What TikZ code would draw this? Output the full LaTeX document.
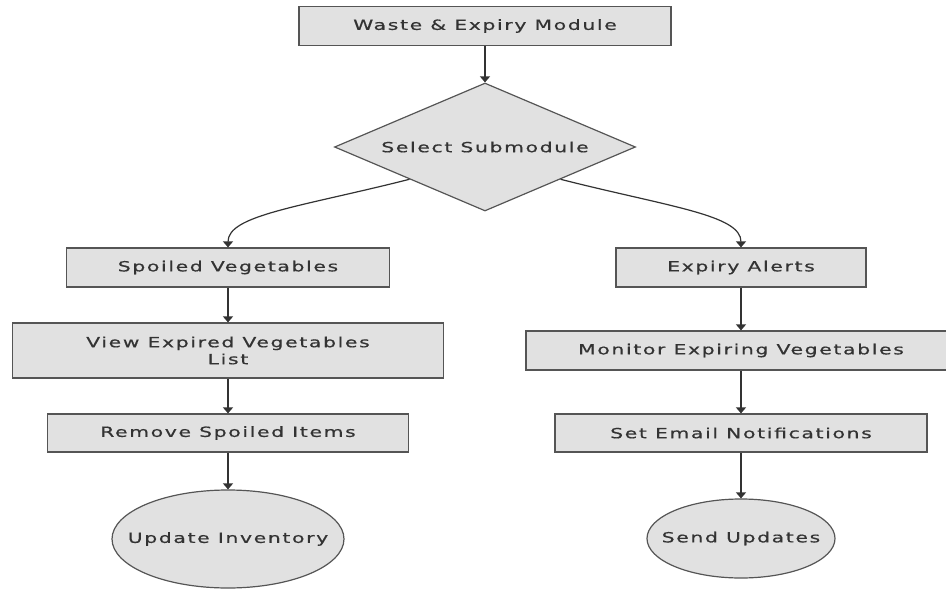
\documentclass[tikz,border=0pt]{standalone}
\usepackage{fontspec}
\setmainfont{DejaVu Sans}[FakeStretch=1.45, LetterSpace=12, FakeBold=0.6]
\usepackage{xcolor}
\usetikzlibrary{shapes.geometric,arrows.meta}

\definecolor{boxfill}{HTML}{E1E1E1}
\definecolor{boxline}{HTML}{555555}
\definecolor{inkgray}{HTML}{333333}

\begin{document}
\begin{tikzpicture}[x=1pt,y=-1pt,
  every node/.style={font=\fontsize{14}{17}\selectfont, text=inkgray},
  box/.style={draw=boxline, fill=boxfill, line width=1.2pt, inner sep=0pt, minimum height=39pt},
  decision/.style={diamond, aspect=2.35, draw=boxline, fill=boxfill, line width=1.2pt, inner sep=0pt, minimum width=301pt, minimum height=128pt},
  finish/.style={ellipse, draw=boxline, fill=boxfill, line width=1.2pt, inner sep=0pt},
  arr/.style={-{Triangle[length=6pt,width=10pt]}, draw=inkgray, line width=1.2pt}]
  % Fix the page size
  \useasboundingbox (0,0) rectangle (946,589);

  % Top of the chart
  \node[box, minimum width=372pt] (waste) at (485,26) {Waste \& Expiry Module};
  \node[decision] (select) at (485,147) {Select Submodule};

  % Left branch
  \node[box, minimum width=323pt] (spoiled) at (228,267.5) {Spoiled Vegetables};
  \node[box, minimum width=431pt, minimum height=55pt, align=center] (viewlist) at (228,350.5) {View Expired Vegetables\\List};
  \node[box, minimum width=361pt, minimum height=38pt] (remove) at (228,433) {Remove Spoiled Items};
  \node[finish, minimum width=232pt, minimum height=98pt] (update) at (228,539) {\makebox[0pt]{Update Inventory}};

  % Right branch
  \node[box, minimum width=250pt] (alerts) at (741,267.5) {Expiry Alerts};
  \node[box, minimum width=430pt] (monitor) at (741,350.5) {Monitor Expiring Vegetables};
  \node[box, minimum width=372pt, minimum height=38pt] (email) at (741,433) {Set Email Notifications};
  \node[finish, minimum width=188pt, minimum height=79pt] (send) at (741,538.5) {\makebox[0pt]{Send Updates}};

  % Connectors
  \draw[arr] (waste.south) -- (select.north);
  \draw[arr] (select.south west) .. controls (300,207) and (228,215) .. (spoiled.north);
  \draw[arr] (select.south east) .. controls (670,207) and (741,215) .. (alerts.north);
  \draw[arr] (spoiled) -- (viewlist);
  \draw[arr] (viewlist) -- (remove);
  \draw[arr] (remove) -- (update);
  \draw[arr] (alerts) -- (monitor);
  \draw[arr] (monitor) -- (email);
  \draw[arr] (email) -- (send);
\end{tikzpicture}
\end{document}
